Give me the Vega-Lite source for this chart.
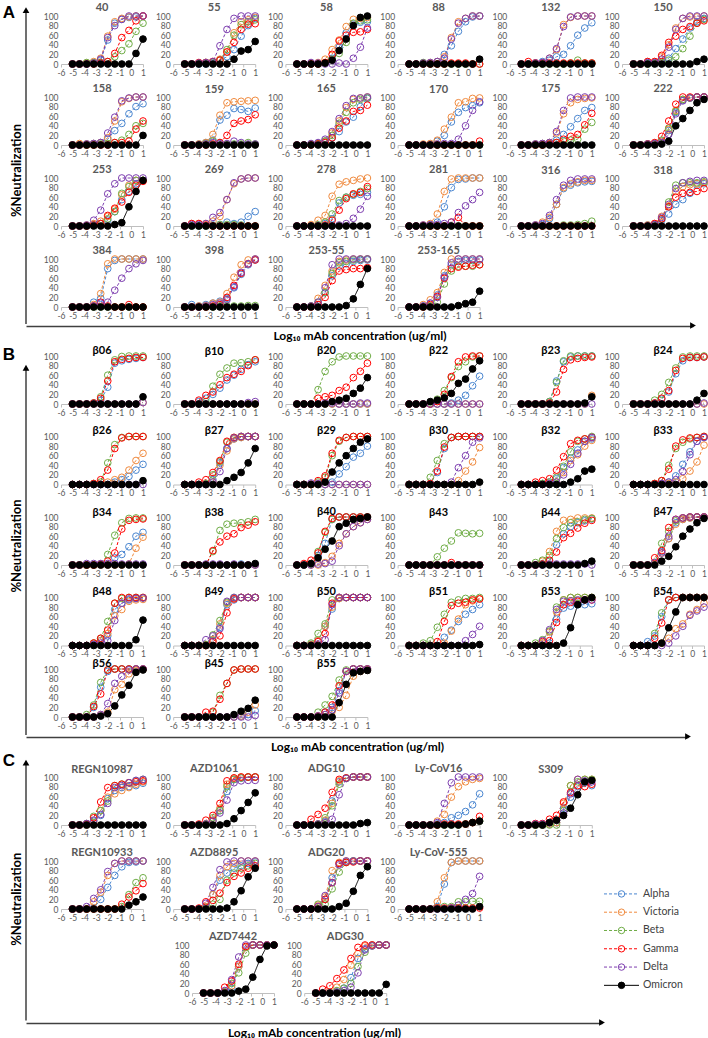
{
"$schema":"https://vega.github.io/schema/vega-lite/v6.json",
"background":"white",
"padding":{"left":2,"top":1,"right":0,"bottom":0},
"config":{"view":{"stroke":null},"font":"Lato",
"axisX":{"grid":false,"domainColor":"#bfbfbf","tickColor":"#bfbfbf","tickSize":3,"labelFontSize":8.5,"labelColor":"#595959","labelPadding":1,"labelFlush":false,"labelOverlap":false,"labelFont":"Lato"},
"axisY":{"grid":false,"domain":false,"ticks":false,"labelFontSize":8.5,"labelColor":"#595959","labelPadding":3,"labelFlush":false,"labelOverlap":false,"labelFont":"Lato"}},
"datasets":{
"xs":[{"i":1,"x":-5.02},{"i":2,"x":-4.42},{"i":3,"x":-3.81},{"i":4,"x":-3.21},{"i":5,"x":-2.61},{"i":6,"x":-2.01},{"i":7,"x":-1.41},{"i":8,"x":-0.81},{"i":9,"x":-0.2},{"i":10,"x":0.4},{"i":11,"x":1}],
"d":[
{"g":"A","p":"40","s":"Alpha","y":[0,0,0,2,8,50,85,93,97,98,100]},
{"g":"A","p":"40","s":"Victoria","y":[0,0,2,5,12,58,88,95,98,100,100]},
{"g":"A","p":"40","s":"Beta","y":[0,0,3,3,3,5,15,28,42,68,85]},
{"g":"A","p":"40","s":"Gamma","y":[0,0,0,0,2,5,22,55,70,90,100]},
{"g":"A","p":"40","s":"Delta","y":[0,0,0,2,10,55,80,93,100,100,100]},
{"g":"A","p":"40","s":"Omicron","y":[0,0,0,0,0,0,0,0,0,22,52]},
{"g":"A","p":"55","s":"Alpha","y":[0,0,0,0,2,8,15,30,58,80,95]},
{"g":"A","p":"55","s":"Victoria","y":[0,0,2,3,5,10,25,65,88,92,97]},
{"g":"A","p":"55","s":"Beta","y":[0,0,2,3,4,8,30,60,82,88,92]},
{"g":"A","p":"55","s":"Gamma","y":[0,0,3,3,5,8,25,45,72,83,84]},
{"g":"A","p":"55","s":"Delta","y":[0,0,2,3,5,38,72,95,100,100,100]},
{"g":"A","p":"55","s":"Omicron","y":[0,0,0,0,0,0,0,10,27,30,47]},
{"g":"A","p":"58","s":"Alpha","y":[0,0,0,0,2,12,35,65,83,87,88]},
{"g":"A","p":"58","s":"Victoria","y":[0,0,2,3,10,30,50,78,93,95,97]},
{"g":"A","p":"58","s":"Beta","y":[0,0,0,0,2,10,22,45,85,90,92]},
{"g":"A","p":"58","s":"Gamma","y":[0,0,0,0,3,20,48,60,66,67,72]},
{"g":"A","p":"58","s":"Delta","y":[0,0,3,2,0,0,2,0,12,35,75]},
{"g":"A","p":"58","s":"Omicron","y":[0,0,0,0,2,8,28,52,80,97,100]},
{"g":"A","p":"88","s":"Alpha","y":[0,0,0,2,5,20,38,68,88,98,100]},
{"g":"A","p":"88","s":"Victoria","y":[0,0,2,3,5,15,55,88,95,100,100]},
{"g":"A","p":"88","s":"Beta","y":[0,0,3,0,0,0,0,0,0,0,0]},
{"g":"A","p":"88","s":"Gamma","y":[0,0,0,0,0,0,2,2,2,0,0]},
{"g":"A","p":"88","s":"Delta","y":[0,0,2,3,5,12,52,85,95,100,100]},
{"g":"A","p":"88","s":"Omicron","y":[0,0,0,0,0,0,0,0,0,0,10]},
{"g":"A","p":"132","s":"Alpha","y":[0,0,2,5,8,15,20,38,60,75,86]},
{"g":"A","p":"132","s":"Victoria","y":[0,0,2,3,12,30,82,97,100,100,100]},
{"g":"A","p":"132","s":"Beta","y":[0,0,0,0,0,0,0,2,8,2,2]},
{"g":"A","p":"132","s":"Gamma","y":[0,5,2,2,2,2,2,2,2,2,2]},
{"g":"A","p":"132","s":"Delta","y":[0,0,2,3,12,32,78,98,100,100,100]},
{"g":"A","p":"132","s":"Omicron","y":[0,0,0,0,0,0,0,0,0,0,0]},
{"g":"A","p":"150","s":"Alpha","y":[0,0,2,3,5,12,32,52,75,88,95]},
{"g":"A","p":"150","s":"Victoria","y":[0,0,5,5,15,40,75,95,98,98,100]},
{"g":"A","p":"150","s":"Beta","y":[0,0,0,2,3,8,15,32,58,85,93]},
{"g":"A","p":"150","s":"Gamma","y":[0,0,5,5,18,45,58,72,78,85,90]},
{"g":"A","p":"150","s":"Delta","y":[0,0,3,3,10,35,72,95,100,100,100]},
{"g":"A","p":"150","s":"Omicron","y":[0,0,0,0,0,0,0,0,0,5,10]},
{"g":"A","p":"158","s":"Alpha","y":[0,0,2,3,5,12,30,45,65,80,86]},
{"g":"A","p":"158","s":"Victoria","y":[0,3,2,3,5,15,50,90,97,100,100]},
{"g":"A","p":"158","s":"Beta","y":[0,0,0,0,2,3,5,10,22,40,45]},
{"g":"A","p":"158","s":"Gamma","y":[0,0,0,0,0,0,5,5,8,33,50]},
{"g":"A","p":"158","s":"Delta","y":[0,0,2,3,5,25,58,92,98,100,100]},
{"g":"A","p":"158","s":"Omicron","y":[0,0,0,0,0,0,0,0,0,0,20]},
{"g":"A","p":"159","s":"Alpha","y":[0,0,2,5,10,52,62,76,74,70,77]},
{"g":"A","p":"159","s":"Victoria","y":[0,0,2,5,22,62,88,90,91,92,93]},
{"g":"A","p":"159","s":"Beta","y":[0,0,0,3,8,5,2,2,2,5,2]},
{"g":"A","p":"159","s":"Gamma","y":[0,0,0,0,2,5,20,45,50,53,63]},
{"g":"A","p":"159","s":"Delta","y":[0,0,0,2,5,3,3,8,5,2,2]},
{"g":"A","p":"159","s":"Omicron","y":[0,0,0,0,0,0,0,0,0,0,0]},
{"g":"A","p":"165","s":"Alpha","y":[0,0,2,3,8,15,28,48,58,80,97]},
{"g":"A","p":"165","s":"Victoria","y":[0,0,2,3,8,25,50,78,95,98,100]},
{"g":"A","p":"165","s":"Beta","y":[0,0,2,3,8,20,45,68,88,95,98]},
{"g":"A","p":"165","s":"Gamma","y":[0,0,0,2,5,15,35,50,70,72,83]},
{"g":"A","p":"165","s":"Delta","y":[0,0,3,5,12,28,55,82,97,98,100]},
{"g":"A","p":"165","s":"Omicron","y":[0,0,0,0,0,0,0,0,0,0,0]},
{"g":"A","p":"170","s":"Alpha","y":[0,0,0,2,8,20,48,68,78,82,88]},
{"g":"A","p":"170","s":"Victoria","y":[0,0,2,3,10,33,58,88,90,97,98]},
{"g":"A","p":"170","s":"Beta","y":[0,0,0,0,0,0,0,0,0,0,0]},
{"g":"A","p":"170","s":"Gamma","y":[0,0,0,0,0,0,0,0,0,0,8]},
{"g":"A","p":"170","s":"Delta","y":[0,0,0,0,2,3,3,12,40,72,90]},
{"g":"A","p":"170","s":"Omicron","y":[0,0,0,0,0,0,0,0,0,0,0]},
{"g":"A","p":"175","s":"Alpha","y":[0,0,2,3,5,10,22,38,55,72,78]},
{"g":"A","p":"175","s":"Victoria","y":[0,0,2,3,5,25,65,88,95,97,98]},
{"g":"A","p":"175","s":"Beta","y":[0,0,0,0,2,5,8,10,12,33,47]},
{"g":"A","p":"175","s":"Gamma","y":[0,0,0,0,2,5,12,18,22,42,66]},
{"g":"A","p":"175","s":"Delta","y":[0,0,2,3,5,28,72,98,100,100,100]},
{"g":"A","p":"175","s":"Omicron","y":[0,0,0,0,0,0,0,0,0,0,0]},
{"g":"A","p":"222","s":"Alpha","y":[0,0,2,3,8,30,68,93,98,100,100]},
{"g":"A","p":"222","s":"Victoria","y":[0,0,2,3,8,32,72,95,98,100,100]},
{"g":"A","p":"222","s":"Beta","y":[0,0,2,3,10,35,70,95,98,100,100]},
{"g":"A","p":"222","s":"Gamma","y":[0,0,2,5,18,50,85,100,100,100,100]},
{"g":"A","p":"222","s":"Delta","y":[0,0,2,3,5,22,65,92,98,100,100]},
{"g":"A","p":"222","s":"Omicron","y":[0,0,0,0,2,8,40,55,72,88,95]},
{"g":"A","p":"253","s":"Alpha","y":[0,0,0,2,5,12,30,55,72,88,95]},
{"g":"A","p":"253","s":"Victoria","y":[0,0,2,5,10,20,35,65,85,95,95]},
{"g":"A","p":"253","s":"Beta","y":[0,0,0,2,5,15,30,68,82,95,95]},
{"g":"A","p":"253","s":"Gamma","y":[0,0,0,2,5,22,37,50,70,85,93]},
{"g":"A","p":"253","s":"Delta","y":[0,0,2,12,33,67,88,100,100,100,100]},
{"g":"A","p":"253","s":"Omicron","y":[0,0,0,0,0,0,3,7,40,72,95]},
{"g":"A","p":"269","s":"Alpha","y":[0,0,0,0,2,3,8,5,8,20,30]},
{"g":"A","p":"269","s":"Victoria","y":[0,5,5,5,10,20,55,88,98,100,100]},
{"g":"A","p":"269","s":"Beta","y":[0,0,0,0,0,3,3,3,2,0,0]},
{"g":"A","p":"269","s":"Gamma","y":[0,5,5,2,0,0,0,0,0,0,0]},
{"g":"A","p":"269","s":"Delta","y":[0,3,3,5,18,28,55,90,98,100,100]},
{"g":"A","p":"269","s":"Omicron","y":[0,0,0,0,0,0,0,0,0,0,0]},
{"g":"A","p":"278","s":"Alpha","y":[0,0,0,2,5,15,48,60,64,66,70]},
{"g":"A","p":"278","s":"Victoria","y":[0,0,3,12,22,62,87,92,95,98,100]},
{"g":"A","p":"278","s":"Beta","y":[0,0,0,2,8,25,53,60,66,72,78]},
{"g":"A","p":"278","s":"Gamma","y":[0,0,0,0,2,12,33,57,67,70,82]},
{"g":"A","p":"278","s":"Delta","y":[0,0,0,0,0,0,2,5,16,35,62]},
{"g":"A","p":"278","s":"Omicron","y":[0,0,0,0,0,0,0,0,0,0,0]},
{"g":"A","p":"281","s":"Alpha","y":[0,0,0,2,8,40,80,97,98,100,100]},
{"g":"A","p":"281","s":"Victoria","y":[0,0,2,5,25,72,98,100,100,100,100]},
{"g":"A","p":"281","s":"Beta","y":[0,0,0,0,0,0,0,0,0,0,0]},
{"g":"A","p":"281","s":"Gamma","y":[0,0,0,0,0,0,8,18,0,0,0]},
{"g":"A","p":"281","s":"Delta","y":[0,0,2,3,3,5,8,28,42,55,70]},
{"g":"A","p":"281","s":"Omicron","y":[0,0,0,0,0,0,0,0,0,0,0]},
{"g":"A","p":"316","s":"Alpha","y":[0,0,2,3,15,45,78,85,90,92,93]},
{"g":"A","p":"316","s":"Victoria","y":[0,0,2,8,18,45,80,88,92,95,95]},
{"g":"A","p":"316","s":"Beta","y":[0,0,0,0,0,0,2,2,3,5,10]},
{"g":"A","p":"316","s":"Gamma","y":[0,0,0,0,0,0,0,0,0,0,0]},
{"g":"A","p":"316","s":"Delta","y":[0,0,2,5,22,55,85,95,98,98,98]},
{"g":"A","p":"316","s":"Omicron","y":[0,0,0,0,0,0,0,0,0,0,0]},
{"g":"A","p":"318","s":"Alpha","y":[0,0,2,3,12,25,45,55,68,85,88]},
{"g":"A","p":"318","s":"Victoria","y":[0,0,2,5,20,42,72,82,86,88,90]},
{"g":"A","p":"318","s":"Beta","y":[0,0,0,3,15,50,85,90,90,90,92]},
{"g":"A","p":"318","s":"Gamma","y":[0,0,0,5,15,40,60,68,70,72,78]},
{"g":"A","p":"318","s":"Delta","y":[0,0,0,3,18,45,78,90,93,95,95]},
{"g":"A","p":"318","s":"Omicron","y":[0,0,0,0,0,0,0,0,0,0,0]},
{"g":"A","p":"384","s":"Alpha","y":[0,0,0,10,18,80,97,100,100,100,100]},
{"g":"A","p":"384","s":"Victoria","y":[0,0,0,5,28,90,100,100,100,100,100]},
{"g":"A","p":"384","s":"Beta","y":[0,0,0,0,0,0,0,0,0,0,0]},
{"g":"A","p":"384","s":"Gamma","y":[0,0,0,2,10,2,0,0,5,0,0]},
{"g":"A","p":"384","s":"Delta","y":[0,0,0,2,8,10,35,60,80,90,97]},
{"g":"A","p":"384","s":"Omicron","y":[0,0,0,0,0,0,0,0,0,0,0]},
{"g":"A","p":"398","s":"Alpha","y":[0,5,2,5,8,12,18,40,68,88,98]},
{"g":"A","p":"398","s":"Victoria","y":[0,0,2,3,8,10,28,62,88,98,100]},
{"g":"A","p":"398","s":"Beta","y":[0,0,0,0,0,2,2,2,2,3,3]},
{"g":"A","p":"398","s":"Gamma","y":[0,0,0,0,2,5,20,45,70,90,98]},
{"g":"A","p":"398","s":"Delta","y":[0,0,0,2,5,8,15,42,72,90,100]},
{"g":"A","p":"398","s":"Omicron","y":[0,0,0,0,0,0,0,0,0,0,0]},
{"g":"A","p":"253-55","s":"Alpha","y":[0,0,2,5,30,65,85,90,95,97,98]},
{"g":"A","p":"253-55","s":"Victoria","y":[0,0,2,18,45,75,95,98,100,100,100]},
{"g":"A","p":"253-55","s":"Beta","y":[0,0,2,10,30,70,92,95,98,99,100]},
{"g":"A","p":"253-55","s":"Gamma","y":[0,0,0,5,20,55,75,78,80,80,82]},
{"g":"A","p":"253-55","s":"Delta","y":[0,0,2,10,40,88,100,100,100,100,100]},
{"g":"A","p":"253-55","s":"Omicron","y":[0,0,0,0,0,0,0,3,17,47,80]},
{"g":"A","p":"253-165","s":"Alpha","y":[0,0,2,8,25,65,88,95,97,97,98]},
{"g":"A","p":"253-165","s":"Victoria","y":[0,0,5,15,30,72,100,100,100,100,100]},
{"g":"A","p":"253-165","s":"Beta","y":[0,0,0,2,10,48,75,85,85,85,88]},
{"g":"A","p":"253-165","s":"Gamma","y":[0,0,0,5,22,60,80,83,85,87,88]},
{"g":"A","p":"253-165","s":"Delta","y":[0,0,2,8,20,62,92,100,100,100,100]},
{"g":"A","p":"253-165","s":"Omicron","y":[0,0,0,0,0,0,0,3,7,10,33]},
{"g":"B","p":"β06","s":"Alpha","y":[0,0,0,2,8,35,85,90,93,95,97]},
{"g":"B","p":"β06","s":"Victoria","y":[0,0,0,0,0,0,0,0,0,0,3]},
{"g":"B","p":"β06","s":"Beta","y":[0,0,0,2,15,60,92,99,100,100,100]},
{"g":"B","p":"β06","s":"Gamma","y":[0,0,0,2,12,48,88,93,95,97,97]},
{"g":"B","p":"β06","s":"Delta","y":[0,0,0,0,0,0,0,0,0,0,3]},
{"g":"B","p":"β06","s":"Omicron","y":[0,0,0,0,0,0,0,0,0,0,15]},
{"g":"B","p":"β10","s":"Alpha","y":[0,0,5,12,20,33,50,60,72,82,88]},
{"g":"B","p":"β10","s":"Victoria","y":[0,0,0,0,0,0,0,0,0,0,0]},
{"g":"B","p":"β10","s":"Beta","y":[0,0,0,5,37,62,75,85,86,88,92]},
{"g":"B","p":"β10","s":"Gamma","y":[0,0,8,18,25,40,55,62,68,80,92]},
{"g":"B","p":"β10","s":"Delta","y":[0,0,0,0,0,0,0,0,0,3,5]},
{"g":"B","p":"β10","s":"Omicron","y":[0,0,0,0,0,0,0,0,0,0,0]},
{"g":"B","p":"β20","s":"Alpha","y":[0,0,0,0,0,0,0,0,0,0,0]},
{"g":"B","p":"β20","s":"Victoria","y":[0,0,0,0,0,0,0,0,0,0,0]},
{"g":"B","p":"β20","s":"Beta","y":[0,0,0,30,68,88,98,100,100,100,100]},
{"g":"B","p":"β20","s":"Gamma","y":[0,0,0,12,15,18,28,35,55,68,85]},
{"g":"B","p":"β20","s":"Delta","y":[0,0,0,0,2,2,0,0,0,2,2]},
{"g":"B","p":"β20","s":"Omicron","y":[0,0,0,0,0,5,8,12,22,33,55]},
{"g":"B","p":"β22","s":"Alpha","y":[0,0,0,0,0,0,2,8,18,38,58]},
{"g":"B","p":"β22","s":"Victoria","y":[0,0,0,0,0,0,0,0,0,0,0]},
{"g":"B","p":"β22","s":"Beta","y":[0,0,0,2,10,28,55,78,88,98,100]},
{"g":"B","p":"β22","s":"Gamma","y":[0,0,0,0,5,20,57,88,98,100,100]},
{"g":"B","p":"β22","s":"Delta","y":[0,0,0,0,0,0,0,0,0,0,0]},
{"g":"B","p":"β22","s":"Omicron","y":[0,0,0,5,8,13,22,43,52,73,90]},
{"g":"B","p":"β23","s":"Alpha","y":[0,0,0,0,5,48,88,98,100,100,100]},
{"g":"B","p":"β23","s":"Victoria","y":[0,0,0,0,0,0,0,0,0,0,18]},
{"g":"B","p":"β23","s":"Beta","y":[0,0,0,0,5,45,90,100,100,100,100]},
{"g":"B","p":"β23","s":"Gamma","y":[0,0,0,0,2,25,72,92,95,97,98]},
{"g":"B","p":"β23","s":"Delta","y":[0,0,0,0,0,0,0,0,0,0,0]},
{"g":"B","p":"β23","s":"Omicron","y":[0,0,0,0,0,0,0,0,0,2,15]},
{"g":"B","p":"β24","s":"Alpha","y":[0,0,0,2,10,25,63,90,97,97,98]},
{"g":"B","p":"β24","s":"Victoria","y":[0,0,0,0,0,0,0,0,0,0,0]},
{"g":"B","p":"β24","s":"Beta","y":[0,0,0,8,20,45,75,98,100,100,100]},
{"g":"B","p":"β24","s":"Gamma","y":[0,0,0,2,12,28,70,95,97,97,98]},
{"g":"B","p":"β24","s":"Delta","y":[0,0,0,0,0,0,0,0,0,0,2]},
{"g":"B","p":"β24","s":"Omicron","y":[0,0,0,0,0,0,0,0,0,8,22]},
{"g":"B","p":"β26","s":"Alpha","y":[0,0,0,0,0,0,5,10,17,30,42]},
{"g":"B","p":"β26","s":"Victoria","y":[0,0,0,0,0,5,10,15,30,50,65]},
{"g":"B","p":"β26","s":"Beta","y":[0,0,0,2,5,45,83,98,100,100,100]},
{"g":"B","p":"β26","s":"Gamma","y":[0,0,0,2,10,30,75,97,100,100,100]},
{"g":"B","p":"β26","s":"Delta","y":[0,0,0,0,0,0,0,0,0,0,0]},
{"g":"B","p":"β26","s":"Omicron","y":[0,0,0,0,0,0,0,0,0,0,8]},
{"g":"B","p":"β27","s":"Alpha","y":[0,0,0,0,10,45,75,95,98,100,100]},
{"g":"B","p":"β27","s":"Victoria","y":[0,0,0,0,5,40,70,95,98,100,100]},
{"g":"B","p":"β27","s":"Beta","y":[0,0,0,2,20,48,88,98,100,100,100]},
{"g":"B","p":"β27","s":"Gamma","y":[0,0,5,10,25,50,90,98,100,100,100]},
{"g":"B","p":"β27","s":"Delta","y":[0,0,0,0,5,27,75,97,100,100,100]},
{"g":"B","p":"β27","s":"Omicron","y":[0,0,0,0,0,0,8,15,25,45,75]},
{"g":"B","p":"β29","s":"Alpha","y":[0,0,0,0,0,5,22,37,57,65,80]},
{"g":"B","p":"β29","s":"Victoria","y":[0,0,0,0,0,0,0,0,0,0,0]},
{"g":"B","p":"β29","s":"Beta","y":[0,0,0,5,15,60,90,98,100,100,100]},
{"g":"B","p":"β29","s":"Gamma","y":[0,0,0,8,18,65,92,98,100,100,100]},
{"g":"B","p":"β29","s":"Delta","y":[0,0,3,2,0,0,0,0,0,0,0]},
{"g":"B","p":"β29","s":"Omicron","y":[0,0,0,0,5,26,45,60,75,88,95]},
{"g":"B","p":"β30","s":"Alpha","y":[0,0,0,2,25,75,98,100,100,100,100]},
{"g":"B","p":"β30","s":"Victoria","y":[0,0,0,0,0,0,0,8,28,47,77]},
{"g":"B","p":"β30","s":"Beta","y":[0,0,0,15,50,85,98,100,100,100,100]},
{"g":"B","p":"β30","s":"Gamma","y":[0,0,0,2,28,78,98,100,100,100,100]},
{"g":"B","p":"β30","s":"Delta","y":[0,0,0,0,0,0,5,35,60,88,97]},
{"g":"B","p":"β30","s":"Omicron","y":[0,0,0,0,0,0,0,0,0,0,5]},
{"g":"B","p":"β32","s":"Alpha","y":[0,0,0,2,5,12,35,55,72,90,95]},
{"g":"B","p":"β32","s":"Victoria","y":[0,0,0,0,2,5,25,50,62,80,92]},
{"g":"B","p":"β32","s":"Beta","y":[0,0,0,2,5,15,38,68,90,95,100]},
{"g":"B","p":"β32","s":"Gamma","y":[0,0,5,8,12,30,58,85,92,95,98]},
{"g":"B","p":"β32","s":"Delta","y":[0,0,0,0,2,5,20,42,65,90,98]},
{"g":"B","p":"β32","s":"Omicron","y":[0,0,0,0,0,0,0,5,12,28,32]},
{"g":"B","p":"β33","s":"Alpha","y":[0,0,0,0,2,5,18,42,68,90,98]},
{"g":"B","p":"β33","s":"Victoria","y":[0,0,0,0,0,2,5,12,28,47,82]},
{"g":"B","p":"β33","s":"Beta","y":[0,0,0,2,8,40,75,88,95,98,100]},
{"g":"B","p":"β33","s":"Gamma","y":[0,0,0,2,8,32,80,93,97,98,100]},
{"g":"B","p":"β33","s":"Delta","y":[0,0,0,0,2,5,10,27,62,90,98]},
{"g":"B","p":"β33","s":"Omicron","y":[0,0,0,0,0,0,0,0,0,0,0]},
{"g":"B","p":"β34","s":"Alpha","y":[0,0,0,0,0,0,15,22,38,60,68]},
{"g":"B","p":"β34","s":"Victoria","y":[0,0,0,0,0,0,0,0,2,35,58]},
{"g":"B","p":"β34","s":"Beta","y":[0,0,0,0,2,22,62,88,97,98,98]},
{"g":"B","p":"β34","s":"Gamma","y":[0,0,0,0,2,8,25,75,93,95,96]},
{"g":"B","p":"β34","s":"Delta","y":[0,0,3,3,3,3,3,2,2,2,2]},
{"g":"B","p":"β34","s":"Omicron","y":[0,0,0,0,0,0,0,0,0,0,0]},
{"g":"B","p":"β38","s":"Alpha","y":[0,0,0,0,0,0,0,0,2,0,0]},
{"g":"B","p":"β38","s":"Victoria","y":[0,0,0,0,0,0,0,0,0,0,0]},
{"g":"B","p":"β38","s":"Beta","y":[0,0,0,0,28,72,85,87,88,90,95]},
{"g":"B","p":"β38","s":"Gamma","y":[0,0,0,0,30,48,60,65,78,83,90]},
{"g":"B","p":"β38","s":"Delta","y":[0,0,0,2,2,2,0,2,0,0,0]},
{"g":"B","p":"β38","s":"Omicron","y":[0,0,0,0,0,0,0,0,0,0,3]},
{"g":"B","p":"β40","s":"Alpha","y":[0,0,2,20,45,95,100,100,100,100,100]},
{"g":"B","p":"β40","s":"Victoria","y":[0,0,0,0,5,18,45,65,80,88,95]},
{"g":"B","p":"β40","s":"Beta","y":[0,0,2,28,68,95,100,100,100,100,100]},
{"g":"B","p":"β40","s":"Gamma","y":[0,3,10,25,70,97,100,100,100,100,100]},
{"g":"B","p":"β40","s":"Delta","y":[0,0,0,2,3,8,40,65,80,88,95]},
{"g":"B","p":"β40","s":"Omicron","y":[0,0,3,15,33,50,80,87,95,97,100]},
{"g":"B","p":"β43","s":"Alpha","y":[0,0,0,0,0,0,0,0,0,0,0]},
{"g":"B","p":"β43","s":"Victoria","y":[0,0,0,0,0,0,0,0,0,0,0]},
{"g":"B","p":"β43","s":"Beta","y":[0,0,0,0,17,35,50,67,66,65,66]},
{"g":"B","p":"β43","s":"Gamma","y":[0,0,0,0,0,0,5,0,0,0,0]},
{"g":"B","p":"β43","s":"Delta","y":[0,0,0,0,0,0,0,0,0,0,0]},
{"g":"B","p":"β43","s":"Omicron","y":[0,0,0,0,0,0,0,0,0,0,0]},
{"g":"B","p":"β44","s":"Alpha","y":[0,0,0,2,8,42,65,80,88,92,96]},
{"g":"B","p":"β44","s":"Victoria","y":[0,0,0,8,28,70,93,95,98,98,98]},
{"g":"B","p":"β44","s":"Beta","y":[0,0,5,10,20,55,78,88,90,95,97]},
{"g":"B","p":"β44","s":"Gamma","y":[0,0,0,2,10,27,57,66,77,87,93]},
{"g":"B","p":"β44","s":"Delta","y":[0,0,0,0,2,2,2,2,2,2,0]},
{"g":"B","p":"β44","s":"Omicron","y":[0,0,0,0,0,0,0,0,0,3,8]},
{"g":"B","p":"β47","s":"Alpha","y":[0,0,0,2,28,55,88,95,98,100,100]},
{"g":"B","p":"β47","s":"Victoria","y":[0,0,0,2,25,55,85,95,98,100,100]},
{"g":"B","p":"β47","s":"Beta","y":[0,0,0,5,45,70,92,98,100,100,100]},
{"g":"B","p":"β47","s":"Gamma","y":[0,0,0,15,30,78,95,98,100,100,100]},
{"g":"B","p":"β47","s":"Delta","y":[0,0,0,5,25,60,95,98,100,100,100]},
{"g":"B","p":"β47","s":"Omicron","y":[0,0,0,0,8,18,38,60,75,88,97]},
{"g":"B","p":"β48","s":"Alpha","y":[0,0,0,2,10,20,75,88,95,98,99]},
{"g":"B","p":"β48","s":"Victoria","y":[0,0,0,5,10,25,62,75,92,95,96]},
{"g":"B","p":"β48","s":"Beta","y":[0,0,0,5,15,50,88,98,100,100,100]},
{"g":"B","p":"β48","s":"Gamma","y":[0,0,0,5,15,32,88,100,100,100,100]},
{"g":"B","p":"β48","s":"Delta","y":[0,0,0,2,5,10,52,88,97,98,99]},
{"g":"B","p":"β48","s":"Omicron","y":[0,0,0,0,0,0,0,0,0,12,53]},
{"g":"B","p":"β49","s":"Alpha","y":[0,0,0,0,10,38,85,95,100,100,100]},
{"g":"B","p":"β49","s":"Victoria","y":[0,0,0,0,12,45,88,98,100,100,100]},
{"g":"B","p":"β49","s":"Beta","y":[0,0,0,2,22,52,90,100,100,100,100]},
{"g":"B","p":"β49","s":"Gamma","y":[0,0,0,0,8,20,68,97,100,100,100]},
{"g":"B","p":"β49","s":"Delta","y":[0,0,0,12,20,35,92,100,100,100,100]},
{"g":"B","p":"β49","s":"Omicron","y":[0,0,0,0,0,0,0,0,0,0,0]},
{"g":"B","p":"β50","s":"Alpha","y":[0,0,2,10,40,76,98,100,100,100,100]},
{"g":"B","p":"β50","s":"Victoria","y":[0,0,2,10,40,80,98,100,100,100,100]},
{"g":"B","p":"β50","s":"Beta","y":[0,0,5,25,45,95,100,100,100,100,100]},
{"g":"B","p":"β50","s":"Gamma","y":[0,0,0,8,25,88,100,100,100,100,100]},
{"g":"B","p":"β50","s":"Delta","y":[0,0,0,3,12,85,100,100,100,100,100]},
{"g":"B","p":"β50","s":"Omicron","y":[0,0,0,0,0,0,0,0,0,0,0]},
{"g":"B","p":"β51","s":"Alpha","y":[0,0,0,0,0,17,32,50,65,75,85]},
{"g":"B","p":"β51","s":"Victoria","y":[0,0,0,0,0,5,30,55,85,93,97]},
{"g":"B","p":"β51","s":"Beta","y":[0,0,5,10,38,65,90,95,98,98,100]},
{"g":"B","p":"β51","s":"Gamma","y":[0,0,0,0,8,50,83,88,90,95,97]},
{"g":"B","p":"β51","s":"Delta","y":[0,0,0,0,0,0,0,0,10,23,40]},
{"g":"B","p":"β51","s":"Omicron","y":[0,0,0,0,0,0,0,0,0,0,2]},
{"g":"B","p":"β53","s":"Alpha","y":[0,0,0,0,5,55,78,82,85,85,87]},
{"g":"B","p":"β53","s":"Victoria","y":[0,0,0,5,28,70,95,100,100,100,100]},
{"g":"B","p":"β53","s":"Beta","y":[0,0,5,12,30,80,95,100,100,100,100]},
{"g":"B","p":"β53","s":"Gamma","y":[0,0,0,8,10,48,85,90,92,95,95]},
{"g":"B","p":"β53","s":"Delta","y":[0,0,0,10,33,75,92,93,95,95,95]},
{"g":"B","p":"β53","s":"Omicron","y":[0,0,0,0,0,0,5,37,85,95,100]},
{"g":"B","p":"β54","s":"Alpha","y":[0,0,8,20,60,95,100,100,100,100,100]},
{"g":"B","p":"β54","s":"Victoria","y":[0,0,0,0,5,15,35,45,65,75,88]},
{"g":"B","p":"β54","s":"Beta","y":[0,0,0,25,68,95,100,100,100,100,100]},
{"g":"B","p":"β54","s":"Gamma","y":[0,0,0,15,47,95,100,100,100,100,100]},
{"g":"B","p":"β54","s":"Delta","y":[0,0,0,0,0,5,20,40,63,72,80]},
{"g":"B","p":"β54","s":"Omicron","y":[0,0,0,0,5,37,70,100,100,100,100]},
{"g":"B5","p":"β56","s":"Alpha","y":[0,0,0,20,62,95,100,100,100,100,100]},
{"g":"B5","p":"β56","s":"Victoria","y":[0,0,0,0,5,10,57,68,90,97,99]},
{"g":"B5","p":"β56","s":"Beta","y":[0,0,5,25,72,98,100,100,100,100,100]},
{"g":"B5","p":"β56","s":"Gamma","y":[0,0,0,22,48,98,100,100,100,100,100]},
{"g":"B5","p":"β56","s":"Delta","y":[0,0,0,0,5,28,70,85,98,100,100]},
{"g":"B5","p":"β56","s":"Omicron","y":[0,0,0,0,2,7,23,46,66,93,98]},
{"g":"B5","p":"β45","s":"Alpha","y":[0,0,0,0,0,0,0,0,2,5,13]},
{"g":"B5","p":"β45","s":"Victoria","y":[0,0,0,0,0,0,0,0,2,10,25]},
{"g":"B5","p":"β45","s":"Beta","y":[0,0,0,0,10,45,70,98,100,100,100]},
{"g":"B5","p":"β45","s":"Gamma","y":[0,0,0,10,12,37,70,98,100,100,100]},
{"g":"B5","p":"β45","s":"Delta","y":[0,0,0,0,0,0,0,0,0,0,3]},
{"g":"B5","p":"β45","s":"Omicron","y":[0,0,0,0,0,0,0,5,12,18,35]},
{"g":"B5","p":"β55","s":"Alpha","y":[0,0,0,2,10,20,55,95,100,100,100]},
{"g":"B5","p":"β55","s":"Victoria","y":[0,0,0,0,5,12,20,45,85,95,98]},
{"g":"B5","p":"β55","s":"Beta","y":[0,0,0,10,25,43,77,98,100,100,100]},
{"g":"B5","p":"β55","s":"Gamma","y":[0,0,0,2,10,25,65,95,100,100,100]},
{"g":"B5","p":"β55","s":"Delta","y":[0,0,0,2,5,15,50,95,100,100,100]},
{"g":"B5","p":"β55","s":"Omicron","y":[0,0,0,0,0,0,30,68,92,95,97]},
{"g":"C1","p":"REGN10987","s":"Alpha","y":[0,0,0,8,20,55,72,78,80,82,87]},
{"g":"C1","p":"REGN10987","s":"Victoria","y":[0,0,0,5,30,58,65,72,78,85,90]},
{"g":"C1","p":"REGN10987","s":"Beta","y":[0,0,3,18,30,50,82,85,88,92,95]},
{"g":"C1","p":"REGN10987","s":"Gamma","y":[0,0,2,15,48,78,82,85,88,90,92]},
{"g":"C1","p":"REGN10987","s":"Delta","y":[0,0,3,10,22,45,78,82,88,93,95]},
{"g":"C1","p":"REGN10987","s":"Omicron","y":[0,0,0,0,0,0,0,0,0,0,0]},
{"g":"C1","p":"AZD1061","s":"Alpha","y":[0,0,0,2,10,30,70,95,98,100,100]},
{"g":"C1","p":"AZD1061","s":"Victoria","y":[0,0,0,2,10,35,85,98,100,100,100]},
{"g":"C1","p":"AZD1061","s":"Beta","y":[0,0,0,2,15,30,80,95,98,100,100]},
{"g":"C1","p":"AZD1061","s":"Gamma","y":[0,0,2,10,20,45,92,98,100,100,100]},
{"g":"C1","p":"AZD1061","s":"Delta","y":[0,0,0,2,8,25,52,88,92,93,93]},
{"g":"C1","p":"AZD1061","s":"Omicron","y":[0,0,0,0,0,0,3,13,30,47,67]},
{"g":"C1","p":"ADG10","s":"Alpha","y":[0,0,0,2,8,50,90,98,100,100,100]},
{"g":"C1","p":"ADG10","s":"Victoria","y":[0,0,0,2,10,45,92,98,100,100,100]},
{"g":"C1","p":"ADG10","s":"Beta","y":[0,0,0,2,15,40,85,97,100,100,100]},
{"g":"C1","p":"ADG10","s":"Gamma","y":[0,0,12,22,35,68,95,98,100,100,100]},
{"g":"C1","p":"ADG10","s":"Delta","y":[0,0,0,2,5,12,63,97,100,100,100]},
{"g":"C1","p":"ADG10","s":"Omicron","y":[0,0,0,0,0,0,0,0,0,3,5]},
{"g":"C1","p":"Ly-CoV16","s":"Alpha","y":[0,0,0,0,2,5,15,20,28,42,65]},
{"g":"C1","p":"Ly-CoV16","s":"Victoria","y":[0,0,0,0,8,22,58,80,90,95,97]},
{"g":"C1","p":"Ly-CoV16","s":"Beta","y":[0,0,0,0,0,0,0,0,2,5,8]},
{"g":"C1","p":"Ly-CoV16","s":"Gamma","y":[0,0,0,0,0,2,2,2,2,5,18]},
{"g":"C1","p":"Ly-CoV16","s":"Delta","y":[0,0,0,0,5,45,88,100,100,100,100]},
{"g":"C1","p":"Ly-CoV16","s":"Omicron","y":[0,0,0,0,0,0,0,0,2,5,8]},
{"g":"C1","p":"S309","s":"Alpha","y":[0,0,0,0,2,5,35,58,80,88,82]},
{"g":"C1","p":"S309","s":"Victoria","y":[0,0,0,0,2,5,45,82,95,95,95]},
{"g":"C1","p":"S309","s":"Beta","y":[0,0,0,0,0,0,30,82,90,95,95]},
{"g":"C1","p":"S309","s":"Gamma","y":[0,0,3,3,12,20,48,68,82,80,85]},
{"g":"C1","p":"S309","s":"Delta","y":[0,0,2,2,5,10,25,65,95,92,90]},
{"g":"C1","p":"S309","s":"Omicron","y":[0,0,0,0,5,10,20,35,63,90,93]},
{"g":"C2","p":"REGN10933","s":"Alpha","y":[0,0,0,2,20,45,70,88,97,98,100]},
{"g":"C2","p":"REGN10933","s":"Victoria","y":[0,0,0,15,35,70,95,100,100,100,100]},
{"g":"C2","p":"REGN10933","s":"Beta","y":[0,0,0,0,0,0,0,5,30,55,65]},
{"g":"C2","p":"REGN10933","s":"Gamma","y":[0,0,0,0,0,0,0,10,25,38,53]},
{"g":"C2","p":"REGN10933","s":"Delta","y":[0,0,5,22,40,78,95,100,100,100,100]},
{"g":"C2","p":"REGN10933","s":"Omicron","y":[0,0,0,0,0,0,0,0,8,15,25]},
{"g":"C2","p":"AZD8895","s":"Alpha","y":[0,0,0,5,30,60,75,85,90,95,98]},
{"g":"C2","p":"AZD8895","s":"Victoria","y":[0,0,0,5,30,70,88,95,100,100,100]},
{"g":"C2","p":"AZD8895","s":"Beta","y":[0,0,0,2,10,20,60,75,85,90,95]},
{"g":"C2","p":"AZD8895","s":"Gamma","y":[0,0,2,15,18,33,55,68,75,85,90]},
{"g":"C2","p":"AZD8895","s":"Delta","y":[0,0,0,12,45,82,98,100,100,100,100]},
{"g":"C2","p":"AZD8895","s":"Omicron","y":[0,0,0,0,0,0,2,15,38,67,85]},
{"g":"C2","p":"ADG20","s":"Alpha","y":[0,0,0,5,20,65,95,98,100,100,100]},
{"g":"C2","p":"ADG20","s":"Victoria","y":[0,0,0,8,25,80,97,100,100,100,100]},
{"g":"C2","p":"ADG20","s":"Beta","y":[0,0,0,10,10,42,77,97,100,100,100]},
{"g":"C2","p":"ADG20","s":"Gamma","y":[0,0,0,5,20,55,95,97,98,100,100]},
{"g":"C2","p":"ADG20","s":"Delta","y":[0,0,0,5,28,55,92,100,100,100,100]},
{"g":"C2","p":"ADG20","s":"Omicron","y":[0,0,0,0,0,0,5,12,37,70,88]},
{"g":"C2","p":"Ly-CoV-555","s":"Alpha","y":[0,0,0,0,5,52,97,100,100,100,100]},
{"g":"C2","p":"Ly-CoV-555","s":"Victoria","y":[0,0,0,0,15,65,97,100,100,100,100]},
{"g":"C2","p":"Ly-CoV-555","s":"Beta","y":[0,0,0,0,2,5,5,15,15,16,16]},
{"g":"C2","p":"Ly-CoV-555","s":"Gamma","y":[0,0,0,0,2,2,2,2,2,2,2]},
{"g":"C2","p":"Ly-CoV-555","s":"Delta","y":[0,0,0,0,0,0,2,8,20,32,68]},
{"g":"C2","p":"Ly-CoV-555","s":"Omicron","y":[0,0,0,0,0,0,0,0,0,0,5]},
{"g":"C3","p":"AZD7442","s":"Alpha","y":[0,0,0,2,10,55,95,100,100,100,100]},
{"g":"C3","p":"AZD7442","s":"Victoria","y":[0,0,0,2,15,55,95,100,100,100,100]},
{"g":"C3","p":"AZD7442","s":"Beta","y":[0,0,0,2,20,42,83,100,100,100,100]},
{"g":"C3","p":"AZD7442","s":"Gamma","y":[0,0,0,12,25,60,97,100,100,100,100]},
{"g":"C3","p":"AZD7442","s":"Delta","y":[0,0,0,5,28,75,100,100,100,100,100]},
{"g":"C3","p":"AZD7442","s":"Omicron","y":[0,0,0,0,0,4,8,33,70,98,100]},
{"g":"C3","p":"ADG30","s":"Alpha","y":[0,0,0,2,10,32,72,92,100,100,100]},
{"g":"C3","p":"ADG30","s":"Victoria","y":[0,0,2,12,28,58,82,98,100,100,100]},
{"g":"C3","p":"ADG30","s":"Beta","y":[0,0,0,5,10,20,55,85,98,100,100]},
{"g":"C3","p":"ADG30","s":"Gamma","y":[0,8,15,30,48,72,95,100,100,100,100]},
{"g":"C3","p":"ADG30","s":"Delta","y":[0,0,0,2,5,12,42,90,98,100,100]},
{"g":"C3","p":"ADG30","s":"Omicron","y":[0,0,0,0,0,0,0,0,0,0,18]}
]},
"spacing":0,
"vconcat":[
{"spacing":3,"vconcat":[
{"spacing":-6,
 "vconcat":[
  {"spacing":13,"hconcat":[
   {"width":1,"height":308,"data":{"values":[{"k":1.019,"t":"A"}]},
    "layer":[
     {"mark":{"type":"rule","color":"#404040","strokeWidth":1.5},"encoding":{"x":{"datum":0,"type":"quantitative","scale":{"domain":[0,1]},"axis":null},"y":{"field":"k","type":"quantitative","scale":{"domain":[0,1]},"axis":{"title":"%Neutralization","domain":false,"labels":false,"ticks":false,"grid":false,"titleFontSize":13,"titleFontWeight":"bold","titleColor":"black","titlePadding":3,"titleFont":"Lato"}},"y2":{"datum":0}}},
     {"mark":{"type":"point","shape":"triangle-up","filled":true,"size":45,"color":"black","opacity":1},"encoding":{"x":{"datum":0,"type":"quantitative"},"y":{"field":"k","type":"quantitative"}}},
     {"mark":{"type":"text","font":"Liberation Sans","fontSize":17,"fontWeight":"bold","color":"black","dx":-17,"dy":-3,"align":"center","baseline":"middle"},"encoding":{"x":{"datum":0,"type":"quantitative"},"y":{"datum":1,"type":"quantitative"},"text":{"field":"t","type":"nominal"}}}
    ]},
   {"data":{"name":"d"},
    "transform":[{"filter":"datum.g==='A'"},{"flatten":["y"],"as":["v"]},{"window":[{"op":"row_number","as":"i"}],"groupby":["p","s"]},{"lookup":"i","from":{"data":{"name":"xs"},"key":"i","fields":["x"]}}],
    "facet":{"field":"p","type":"nominal","sort":["40","55","58","88","132","150","158","159","165","170","175","222","253","269","278","281","316","318","384","398","253-55","253-165"],"title":null,"header":{"labelFontSize":11,"labelFontWeight":"bold","labelColor":"#595959","labelPadding":-2,"labelFont":"Lato"}},
    "columns":6,"spacing":{"row":5,"column":6.2},
    "resolve":{"axis":{"x":"independent","y":"independent"}},
    "spec":{"width":82,"height":48,
     "encoding":{"x":{"field":"x","type":"quantitative","scale":{"domain":[-6,1],"nice":false,"zero":false},"axis":{"values":[-6,-5,-4,-3,-2,-1,0,1],"labelExpr":"''+datum.value","title":null}},
      "y":{"field":"v","type":"quantitative","scale":{"domain":[0,100],"nice":false},"axis":{"values":[0,20,40,60,80,100],"title":null}},
      "color":{"field":"s","type":"nominal","scale":{"domain":["Alpha","Victoria","Beta","Gamma","Delta","Omicron"],"range":["#4A86D0","#F08A3E","#70AD47","#FF0000","#7E3FB0","#000000"]},"legend":null}},
     "layer":[
      {"mark":{"type":"line","strokeWidth":1},"encoding":{"strokeDash":{"field":"s","type":"nominal","scale":{"domain":["Alpha","Victoria","Beta","Gamma","Delta","Omicron"],"range":[[3,2],[3,2],[3,2],[3,2],[3,2],[1,0]]},"legend":null}}},
      {"mark":{"type":"point","shape":"circle","size":45,"strokeWidth":1,"opacity":1,"filled":false},"encoding":{"fill":{"field":"s","type":"nominal","scale":{"domain":["Alpha","Victoria","Beta","Gamma","Delta","Omicron"],"range":["transparent","transparent","transparent","transparent","transparent","#000000"]},"legend":null}}}
     ]}}
  ]},
  {"width":667,"height":1,"data":{"values":[{"k":1}]},"mark":{"type":"point","shape":"triangle-right","filled":true,"size":45,"color":"black","opacity":1},
   "encoding":{"x":{"field":"k","type":"quantitative","scale":{"domain":[0,1]},"axis":{"title":"Log₁₀ mAb concentration (ug/ml)","domain":true,"domainColor":"#404040","domainWidth":1.5,"labels":false,"ticks":false,"grid":false,"titleFontSize":12,"titleFontWeight":"bold","titleColor":"black","titlePadding":4,"titleFont":"Lato"}},
    "y":{"field":"k","type":"quantitative","scale":{"domain":[0,2]},"axis":{"title":"%","titleOpacity":0,"domain":false,"labels":false,"ticks":false,"grid":false,"titleFontSize":13,"titleFontWeight":"bold","titlePadding":10,"titleFont":"Lato"}}}}
 ]},
{"spacing":-6,
 "vconcat":[
  {"spacing":13,"hconcat":[
   {"width":1,"height":379,"data":{"values":[{"k":0.969,"t":"B"}]},
    "layer":[
     {"mark":{"type":"rule","color":"#404040","strokeWidth":1.5},"encoding":{"x":{"datum":0,"type":"quantitative","scale":{"domain":[0,1]},"axis":null},"y":{"field":"k","type":"quantitative","scale":{"domain":[0,1]},"axis":{"title":"%Neutralization","domain":false,"labels":false,"ticks":false,"grid":false,"titleFontSize":13,"titleFontWeight":"bold","titleColor":"black","titlePadding":3,"titleFont":"Lato"}},"y2":{"datum":0}}},
     {"mark":{"type":"point","shape":"triangle-up","filled":true,"size":45,"color":"black","opacity":1},"encoding":{"x":{"datum":0,"type":"quantitative"},"y":{"field":"k","type":"quantitative"}}},
     {"mark":{"type":"text","font":"Liberation Sans","fontSize":17,"fontWeight":"bold","color":"black","dx":-17,"dy":-1.5,"align":"center","baseline":"middle"},"encoding":{"x":{"datum":0,"type":"quantitative"},"y":{"datum":1,"type":"quantitative"},"text":{"field":"t","type":"nominal"}}}
    ]},
   {"spacing":-1,"vconcat":[
   {"data":{"name":"d"},
    "transform":[{"filter":"datum.g==='B'"},{"flatten":["y"],"as":["v"]},{"window":[{"op":"row_number","as":"i"}],"groupby":["p","s"]},{"lookup":"i","from":{"data":{"name":"xs"},"key":"i","fields":["x"]}}],
    "facet":{"field":"p","type":"nominal","sort":["β06","β10","β20","β22","β23","β24","β26","β27","β29","β30","β32","β33","β34","β38","β40","β43","β44","β47","β48","β49","β50","β51","β53","β54"],"title":null,"header":{"labelFontSize":11,"labelFontWeight":"bold","labelColor":"#000000","labelPadding":-5,"labelFont":"Lato"}},
    "columns":6,"spacing":{"row":7.5,"column":6.2},
    "resolve":{"axis":{"x":"independent","y":"independent"}},
    "spec":{"width":82,"height":48,
     "encoding":{"x":{"field":"x","type":"quantitative","scale":{"domain":[-6,1],"nice":false,"zero":false},"axis":{"values":[-6,-5,-4,-3,-2,-1,0,1],"labelExpr":"''+datum.value","title":null}},
      "y":{"field":"v","type":"quantitative","scale":{"domain":[0,100],"nice":false},"axis":{"values":[0,20,40,60,80,100],"title":null}},
      "color":{"field":"s","type":"nominal","scale":{"domain":["Alpha","Victoria","Beta","Gamma","Delta","Omicron"],"range":["#4A86D0","#F08A3E","#70AD47","#FF0000","#7E3FB0","#000000"]},"legend":null}},
     "layer":[
      {"mark":{"type":"line","strokeWidth":1},"encoding":{"strokeDash":{"field":"s","type":"nominal","scale":{"domain":["Alpha","Victoria","Beta","Gamma","Delta","Omicron"],"range":[[3,2],[3,2],[3,2],[3,2],[3,2],[1,0]]},"legend":null}}},
      {"mark":{"type":"point","shape":"circle","size":45,"strokeWidth":1,"opacity":1,"filled":false},"encoding":{"fill":{"field":"s","type":"nominal","scale":{"domain":["Alpha","Victoria","Beta","Gamma","Delta","Omicron"],"range":["transparent","transparent","transparent","transparent","transparent","#000000"]},"legend":null}}}
     ]}},
   {"data":{"name":"d"},
    "transform":[{"filter":"datum.g==='B5'"},{"flatten":["y"],"as":["v"]},{"window":[{"op":"row_number","as":"i"}],"groupby":["p","s"]},{"lookup":"i","from":{"data":{"name":"xs"},"key":"i","fields":["x"]}}],
    "facet":{"field":"p","type":"nominal","sort":["β56","β45","β55"],"title":null,"header":{"labelFontSize":11,"labelFontWeight":"bold","labelColor":"#000000","labelPadding":-5,"labelFont":"Lato"}},
    "columns":6,"spacing":{"row":7.5,"column":6.2},
    "resolve":{"axis":{"x":"independent","y":"independent"}},
    "spec":{"width":82,"height":48,
     "encoding":{"x":{"field":"x","type":"quantitative","scale":{"domain":[-6,1],"nice":false,"zero":false},"axis":{"values":[-6,-5,-4,-3,-2,-1,0,1],"labelExpr":"''+datum.value","title":null}},
      "y":{"field":"v","type":"quantitative","scale":{"domain":[0,100],"nice":false},"axis":{"values":[0,20,40,60,80,100],"title":null}},
      "color":{"field":"s","type":"nominal","scale":{"domain":["Alpha","Victoria","Beta","Gamma","Delta","Omicron"],"range":["#4A86D0","#F08A3E","#70AD47","#FF0000","#7E3FB0","#000000"]},"legend":null}},
     "layer":[
      {"mark":{"type":"line","strokeWidth":1},"encoding":{"strokeDash":{"field":"s","type":"nominal","scale":{"domain":["Alpha","Victoria","Beta","Gamma","Delta","Omicron"],"range":[[3,2],[3,2],[3,2],[3,2],[3,2],[1,0]]},"legend":null}}},
      {"mark":{"type":"point","shape":"circle","size":45,"strokeWidth":1,"opacity":1,"filled":false},"encoding":{"fill":{"field":"s","type":"nominal","scale":{"domain":["Alpha","Victoria","Beta","Gamma","Delta","Omicron"],"range":["transparent","transparent","transparent","transparent","transparent","#000000"]},"legend":null}}}
     ]}}
   ]}
  ]},
  {"width":662,"height":1,"data":{"values":[{"k":1}]},"mark":{"type":"point","shape":"triangle-right","filled":true,"size":45,"color":"black","opacity":1},
   "encoding":{"x":{"field":"k","type":"quantitative","scale":{"domain":[0,1]},"axis":{"title":"Log₁₀ mAb concentration (ug/ml)","domain":true,"domainColor":"#404040","domainWidth":1.5,"labels":false,"ticks":false,"grid":false,"titleFontSize":12,"titleFontWeight":"bold","titleColor":"black","titlePadding":4,"titleFont":"Lato"}},
    "y":{"field":"k","type":"quantitative","scale":{"domain":[0,2]},"axis":{"title":"%","titleOpacity":0,"domain":false,"labels":false,"ticks":false,"grid":false,"titleFontSize":13,"titleFontWeight":"bold","titlePadding":10,"titleFont":"Lato"}}}}
 ]}
]},
{"spacing":-6,
 "vconcat":[
  {"spacing":13,"hconcat":[
   {"width":1,"height":243.5,"data":{"values":[{"k":1.059,"t":"C"}]},
    "layer":[
     {"mark":{"type":"rule","color":"#404040","strokeWidth":1.5},"encoding":{"x":{"datum":0,"type":"quantitative","scale":{"domain":[0,1]},"axis":null},"y":{"field":"k","type":"quantitative","scale":{"domain":[0,1]},"axis":{"title":"%Neutralization","domain":false,"labels":false,"ticks":false,"grid":false,"titleFontSize":13,"titleFontWeight":"bold","titleColor":"black","titlePadding":3,"titleFont":"Lato"}},"y2":{"datum":0}}},
     {"mark":{"type":"point","shape":"triangle-up","filled":true,"size":45,"color":"black","opacity":1},"encoding":{"x":{"datum":0,"type":"quantitative"},"y":{"field":"k","type":"quantitative"}}},
     {"mark":{"type":"text","font":"Liberation Sans","fontSize":17,"fontWeight":"bold","color":"black","dx":-17,"dy":-16,"align":"center","baseline":"middle"},"encoding":{"x":{"datum":0,"type":"quantitative"},"y":{"datum":1,"type":"quantitative"},"text":{"field":"t","type":"nominal"}}}
    ]},
   {"spacing":8,"vconcat":[
    {"data":{"name":"d"},
     "transform":[{"filter":"datum.g==='C1'"},{"flatten":["y"],"as":["v"]},{"window":[{"op":"row_number","as":"i"}],"groupby":["p","s"]},{"lookup":"i","from":{"data":{"name":"xs"},"key":"i","fields":["x"]}}],
     "facet":{"field":"p","type":"nominal","sort":["REGN10987","AZD1061","ADG10","Ly-CoV16","S309"],"title":null,"header":{"labelFontSize":11,"labelFontWeight":"bold","labelColor":"#595959","labelPadding":-2,"labelFont":"Lato"}},
     "columns":5,"spacing":{"row":5,"column":6.2},
     "resolve":{"axis":{"x":"independent","y":"independent"}},
     "spec":{"width":82,"height":48,
      "encoding":{"x":{"field":"x","type":"quantitative","scale":{"domain":[-6,1],"nice":false,"zero":false},"axis":{"values":[-6,-5,-4,-3,-2,-1,0,1],"labelExpr":"''+datum.value","title":null}},
       "y":{"field":"v","type":"quantitative","scale":{"domain":[0,100],"nice":false},"axis":{"values":[0,20,40,60,80,100],"title":null}},
       "color":{"field":"s","type":"nominal","scale":{"domain":["Alpha","Victoria","Beta","Gamma","Delta","Omicron"],"range":["#4A86D0","#F08A3E","#70AD47","#FF0000","#7E3FB0","#000000"]},"legend":null}},
      "layer":[
       {"mark":{"type":"line","strokeWidth":1},"encoding":{"strokeDash":{"field":"s","type":"nominal","scale":{"domain":["Alpha","Victoria","Beta","Gamma","Delta","Omicron"],"range":[[3,2],[3,2],[3,2],[3,2],[3,2],[1,0]]},"legend":null}}},
       {"mark":{"type":"point","shape":"circle","size":45,"strokeWidth":1,"opacity":1,"filled":false},"encoding":{"fill":{"field":"s","type":"nominal","scale":{"domain":["Alpha","Victoria","Beta","Gamma","Delta","Omicron"],"range":["transparent","transparent","transparent","transparent","transparent","#000000"]},"legend":null}}}
      ]}},
    {"spacing":118,"hconcat":[
     {"spacing":8,"vconcat":[
      {"data":{"name":"d"},
       "transform":[{"filter":"datum.g==='C2'"},{"flatten":["y"],"as":["v"]},{"window":[{"op":"row_number","as":"i"}],"groupby":["p","s"]},{"lookup":"i","from":{"data":{"name":"xs"},"key":"i","fields":["x"]}}],
       "facet":{"field":"p","type":"nominal","sort":["REGN10933","AZD8895","ADG20","Ly-CoV-555"],"title":null,"header":{"labelFontSize":11,"labelFontWeight":"bold","labelColor":"#595959","labelPadding":-2,"labelFont":"Lato"}},
       "columns":4,"spacing":{"row":5,"column":6.2},
       "resolve":{"axis":{"x":"independent","y":"independent"}},
       "spec":{"width":82,"height":48,
        "encoding":{"x":{"field":"x","type":"quantitative","scale":{"domain":[-6,1],"nice":false,"zero":false},"axis":{"values":[-6,-5,-4,-3,-2,-1,0,1],"labelExpr":"''+datum.value","title":null}},
         "y":{"field":"v","type":"quantitative","scale":{"domain":[0,100],"nice":false},"axis":{"values":[0,20,40,60,80,100],"title":null}},
         "color":{"field":"s","type":"nominal","scale":{"domain":["Alpha","Victoria","Beta","Gamma","Delta","Omicron"],"range":["#4A86D0","#F08A3E","#70AD47","#FF0000","#7E3FB0","#000000"]},"legend":null}},
        "layer":[
         {"mark":{"type":"line","strokeWidth":1},"encoding":{"strokeDash":{"field":"s","type":"nominal","scale":{"domain":["Alpha","Victoria","Beta","Gamma","Delta","Omicron"],"range":[[3,2],[3,2],[3,2],[3,2],[3,2],[1,0]]},"legend":null}}},
         {"mark":{"type":"point","shape":"circle","size":45,"strokeWidth":1,"opacity":1,"filled":false},"encoding":{"fill":{"field":"s","type":"nominal","scale":{"domain":["Alpha","Victoria","Beta","Gamma","Delta","Omicron"],"range":["transparent","transparent","transparent","transparent","transparent","#000000"]},"legend":null}}}
        ]}},
      {"spacing":0,"hconcat":[
       {"width":113,"height":10,"data":{"values":[{"k":1}]},"mark":{"type":"point","opacity":0},"encoding":{}},
       {"data":{"name":"d"},
        "transform":[{"filter":"datum.g==='C3'"},{"flatten":["y"],"as":["v"]},{"window":[{"op":"row_number","as":"i"}],"groupby":["p","s"]},{"lookup":"i","from":{"data":{"name":"xs"},"key":"i","fields":["x"]}}],
        "facet":{"field":"p","type":"nominal","sort":["AZD7442","ADG30"],"title":null,"header":{"labelFontSize":11,"labelFontWeight":"bold","labelColor":"#595959","labelPadding":-2,"labelFont":"Lato"}},
        "columns":2,"spacing":{"row":5,"column":6.2},
        "resolve":{"axis":{"x":"independent","y":"independent"}},
        "spec":{"width":82,"height":48,
         "encoding":{"x":{"field":"x","type":"quantitative","scale":{"domain":[-6,1],"nice":false,"zero":false},"axis":{"values":[-6,-5,-4,-3,-2,-1,0,1],"labelExpr":"''+datum.value","title":null}},
          "y":{"field":"v","type":"quantitative","scale":{"domain":[0,100],"nice":false},"axis":{"values":[0,20,40,60,80,100],"title":null}},
          "color":{"field":"s","type":"nominal","scale":{"domain":["Alpha","Victoria","Beta","Gamma","Delta","Omicron"],"range":["#4A86D0","#F08A3E","#70AD47","#FF0000","#7E3FB0","#000000"]},"legend":null}},
         "layer":[
          {"mark":{"type":"line","strokeWidth":1},"encoding":{"strokeDash":{"field":"s","type":"nominal","scale":{"domain":["Alpha","Victoria","Beta","Gamma","Delta","Omicron"],"range":[[3,2],[3,2],[3,2],[3,2],[3,2],[1,0]]},"legend":null}}},
          {"mark":{"type":"point","shape":"circle","size":45,"strokeWidth":1,"opacity":1,"filled":false},"encoding":{"fill":{"field":"s","type":"nominal","scale":{"domain":["Alpha","Victoria","Beta","Gamma","Delta","Omicron"],"range":["transparent","transparent","transparent","transparent","transparent","#000000"]},"legend":null}}}
         ]}}
      ]}
     ]},
     {"width":35,"height":128,"data":{"values":[{"s":"Alpha"},{"s":"Victoria"},{"s":"Beta"},{"s":"Gamma"},{"s":"Delta"},{"s":"Omicron"}]},
      "encoding":{"y":{"field":"s","type":"nominal","sort":null,"scale":{"type":"point","padding":1,"align":0.9},"axis":null},
       "color":{"field":"s","type":"nominal","scale":{"domain":["Alpha","Victoria","Beta","Gamma","Delta","Omicron"],"range":["#4A86D0","#F08A3E","#70AD47","#FF0000","#7E3FB0","#000000"]},"legend":null}},
      "layer":[
       {"mark":{"type":"rule","strokeWidth":1},"encoding":{"x":{"datum":0,"type":"quantitative","scale":{"domain":[0,1]},"axis":null},"x2":{"datum":1},"strokeDash":{"field":"s","type":"nominal","scale":{"domain":["Alpha","Victoria","Beta","Gamma","Delta","Omicron"],"range":[[3,2],[3,2],[3,2],[3,2],[3,2],[1,0]]},"legend":null}}},
       {"mark":{"type":"point","shape":"circle","size":42,"strokeWidth":1,"opacity":1,"filled":false},"encoding":{"x":{"datum":0.5,"type":"quantitative"},"fill":{"field":"s","type":"nominal","scale":{"domain":["Alpha","Victoria","Beta","Gamma","Delta","Omicron"],"range":["white","white","white","white","white","#000000"]},"legend":null}}},
       {"mark":{"type":"text","align":"left","dx":4,"fontSize":10.5,"font":"Lato","color":"#404040"},"encoding":{"x":{"datum":1,"type":"quantitative"},"text":{"field":"s"},"color":{"value":"#404040"}}}
      ]}
    ]}
   ]}
  ]},
  {"width":576,"height":1,"data":{"values":[{"k":1}]},"mark":{"type":"point","shape":"triangle-right","filled":true,"size":45,"color":"black","opacity":1},
   "encoding":{"x":{"field":"k","type":"quantitative","scale":{"domain":[0,1]},"axis":{"title":"Log₁₀ mAb concentration (ug/ml)","domain":true,"domainColor":"#404040","domainWidth":1.5,"labels":false,"ticks":false,"grid":false,"titleFontSize":12,"titleFontWeight":"bold","titleColor":"black","titlePadding":4,"titleFont":"Lato"}},
    "y":{"field":"k","type":"quantitative","scale":{"domain":[0,2]},"axis":{"title":"%","titleOpacity":0,"domain":false,"labels":false,"ticks":false,"grid":false,"titleFontSize":13,"titleFontWeight":"bold","titlePadding":10,"titleFont":"Lato"}}}}
 ]}
]
}
